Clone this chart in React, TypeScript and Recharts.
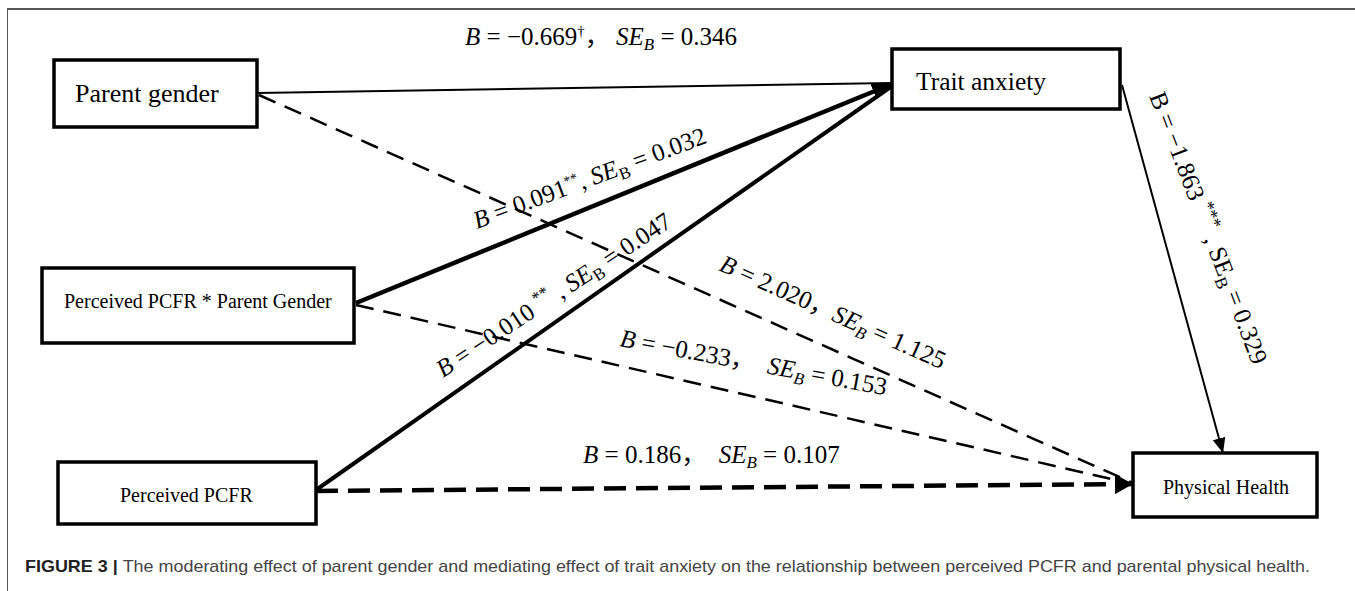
import { ComposedChart, XAxis, YAxis, Line, Scatter, ReferenceArea } from "recharts";

const W = 1355;
const H = 591;

// variables in the path model
const nodeNames = [
  "Parent gender",
  "Perceived PCFR * Parent Gender",
  "Perceived PCFR",
  "Trait anxiety",
  "Physical Health",
];

// paths: from -> to, with unstandardized coefficient, SE and significance
const pathFrom = [0, 0, 1, 1, 2, 2, 3];
const pathTo = [3, 4, 3, 4, 3, 4, 4];
const pathB = [-0.669, 2.02, 0.091, -0.233, -0.01, 0.186, -1.863];
const pathSE = [0.346, 1.125, 0.032, 0.153, 0.047, 0.107, 0.329];
const pathSig = ["†", "", "**", "", "**", "", "***"];

const caption =
  "The moderating effect of parent gender and mediating effect of trait anxiety on the relationship between perceived PCFR and parental physical health.";

// ---- layout (figure pixels) ----
const boxLayout = [
  { x1: 54, x2: 257, y1: 60, y2: 127, tx: 75, ty: 102, size: 26 },
  { x1: 42, x2: 354, y1: 268, y2: 343, tx: 64, ty: 308, size: 20 },
  { x1: 58, x2: 316, y1: 462, y2: 524, tx: 120, ty: 502, size: 20 },
  { x1: 892, x2: 1120, y1: 49, y2: 109, tx: 916, ty: 90, size: 25.5 },
  { x1: 1133, x2: 1317, y1: 453, y2: 517, tx: 1163, ty: 494, size: 20 },
];

const pathLayout = [
  { from: { x: 257, y: 93 }, to: { x: 892, y: 83 }, w: 2, dash: undefined, marker: undefined },
  { from: { x: 259, y: 95 }, to: { x: 1133, y: 483 }, w: 2.5, dash: "18 10", marker: undefined },
  { from: { x: 356, y: 303 }, to: { x: 892, y: 84 }, w: 4.5, dash: undefined, marker: "url(#arrowTA)" },
  { from: { x: 356, y: 305 }, to: { x: 1133, y: 484 }, w: 2.5, dash: "18 10", marker: undefined },
  { from: { x: 316, y: 490 }, to: { x: 892, y: 86 }, w: 4, dash: undefined, marker: undefined },
  { from: { x: 316, y: 491 }, to: { x: 1133, y: 484 }, w: 4.5, dash: "22 10", marker: "url(#arrowPHl)" },
  { from: { x: 1122, y: 85 }, to: { x: 1223, y: 453 }, w: 2, dash: undefined, marker: "url(#arrowPHt)" },
];

const labelLayout = [
  { x: 465, y: 45, angle: 0, italic: true, subItalic: true, sep: "，\u00a0", sigGap: false, sigSize: 15, sigRise: 9 },
  { x: 718, y: 270, angle: 24, italic: true, subItalic: true, sep: "，", sigGap: false, sigSize: 15, sigRise: 9 },
  { x: 477, y: 229, angle: -20.5, italic: true, subItalic: false, sep: ", ", sigGap: false, sigSize: 14, sigRise: 9 },
  { x: 619, y: 346, angle: 10.5, italic: true, subItalic: true, sep: "，\u00a0\u00a0", sigGap: false, sigSize: 15, sigRise: 9 },
  { x: 443, y: 378, angle: -33.5, italic: true, subItalic: false, sep: " , ", sigGap: true, sigSize: 17, sigRise: 10 },
  { x: 583, y: 463, angle: 0, italic: true, subItalic: true, sep: "，\u00a0\u00a0", sigGap: false, sigSize: 15, sigRise: 9 },
  { x: 1149, y: 96, angle: 69, italic: false, subItalic: false, sep: " , ", sigGap: true, sigSize: 18, sigRise: 10 },
];

const serif = "'Liberation Serif', 'Times New Roman', 'Noto Sans CJK SC', serif";
const sans = "'Liberation Sans', Arial, Helvetica, sans-serif";

const fmt = (v: number) => (v < 0 ? "\u2212" : "") + Math.abs(v).toFixed(3);

type Seg = { t: string; italic?: boolean; size?: number; shift?: number; bold?: boolean; fill?: string };

function Rich({ x, y, angle, segs, size, family, fill }: any) {
  let prev = 0;
  return (
    <text
      x={x}
      y={y}
      transform={angle ? `rotate(${angle} ${x} ${y})` : undefined}
      fontFamily={family}
      fontSize={size}
      fill={fill}
      style={{ whiteSpace: "pre" }}
    >
      {(segs as Seg[]).map((s, k) => {
        const sh = s.shift ?? 0;
        const dy = sh - prev;
        prev = sh;
        return (
          <tspan
            key={k}
            dy={dy}
            fontStyle={s.italic ? "italic" : "normal"}
            fontSize={s.size}
            fontWeight={s.bold ? "bold" : undefined}
            fill={s.fill}
          >
            {s.t}
          </tspan>
        );
      })}
    </text>
  );
}

const coefSegs = (i: number): Seg[] => {
  const L = labelLayout[i];
  const segs: Seg[] = [{ t: "B", italic: L.italic }, { t: " = " + fmt(pathB[i]) }];
  if (pathSig[i]) {
    if (L.sigGap) segs.push({ t: " " });
    segs.push({ t: pathSig[i], size: L.sigSize, shift: -L.sigRise });
  }
  segs.push({ t: L.sep });
  segs.push({ t: "SE", italic: L.italic });
  segs.push({ t: "B", italic: L.subItalic, size: 17, shift: 5 });
  segs.push({ t: " = " + fmt(pathSE[i]) });
  return segs;
};

const nodeLabelData = nodeNames.map((name, i) => ({
  x: boxLayout[i].tx,
  y: boxLayout[i].ty,
  name,
  size: boxLayout[i].size,
}));

const coefLabelData = pathB.map((_, i) => ({
  x: labelLayout[i].x,
  y: labelLayout[i].y,
  idx: i,
}));

export default function App() {
  return (
    <div style={{ position: "absolute", left: 0, top: 0, width: W, height: H, background: "#fff" }}>
      <svg width={0} height={0} style={{ position: "absolute" }}>
        <defs>
          <marker id="arrowTA" viewBox="0 0 20 17" refX={20} refY={8.5} markerWidth={20} markerHeight={17} markerUnits="userSpaceOnUse" orient="auto">
            <path d="M0,0 L20,8.5 L0,17 z" fill="#000" />
          </marker>
          <marker id="arrowPHl" viewBox="0 0 18 20" refX={18} refY={10} markerWidth={18} markerHeight={20} markerUnits="userSpaceOnUse" orient="auto">
            <path d="M0,0 L18,10 L0,20 z" fill="#000" />
          </marker>
          <marker id="arrowPHt" viewBox="0 0 15 13" refX={15} refY={6.5} markerWidth={15} markerHeight={13} markerUnits="userSpaceOnUse" orient="auto">
            <path d="M0,0 L15,6.5 L0,13 z" fill="#000" />
          </marker>
        </defs>
      </svg>

      <div
        style={{
          position: "absolute",
          left: 7,
          top: 8,
          width: W - 7,
          height: H,
          borderTop: "2px solid #555",
          borderLeft: "1.5px solid #555",
        }}
      />

      <div style={{ position: "absolute", left: 0, top: 0 }}>
        <ComposedChart width={W} height={H} margin={{ top: 0, right: 0, bottom: 0, left: 0 }}>
          <XAxis type="number" dataKey="x" domain={[0, W]} hide allowDataOverflow />
          <YAxis type="number" dataKey="y" domain={[0, H]} reversed hide allowDataOverflow />

          {boxLayout.map((b, i) => (
            <ReferenceArea
              key={"box" + i}
              x1={b.x1}
              x2={b.x2}
              y1={b.y1}
              y2={b.y2}
              fill="#fff"
              fillOpacity={1}
              stroke="#000"
              strokeWidth={3.5}
            />
          ))}

          {pathFrom.map((f, i) => (
            <Line
              key={"path" + i}
              name={nodeNames[f] + " → " + nodeNames[pathTo[i]]}
              data={[pathLayout[i].from, pathLayout[i].to]}
              dataKey="y"
              type="linear"
              stroke="#000"
              strokeWidth={pathLayout[i].w}
              strokeDasharray={pathLayout[i].dash}
              markerEnd={pathLayout[i].marker}
              dot={false}
              activeDot={false}
              isAnimationActive={false}
            />
          ))}

          <Scatter
            data={nodeLabelData}
            dataKey="y"
            isAnimationActive={false}
            shape={(p: any) => (
              <text x={p.cx} y={p.cy} fontFamily={serif} fontSize={p.payload.size} fill="#000">
                {p.payload.name}
              </text>
            )}
          />

          <Scatter
            data={coefLabelData}
            dataKey="y"
            isAnimationActive={false}
            shape={(p: any) => (
              <Rich
                x={p.cx}
                y={p.cy}
                angle={labelLayout[p.payload.idx].angle}
                segs={coefSegs(p.payload.idx)}
                size={25}
                family={serif}
                fill="#000"
              />
            )}
          />
        </ComposedChart>
      </div>

      <svg width={W} height={H} style={{ position: "absolute", left: 0, top: 0, pointerEvents: "none" }}>
        <text x={25} y={572} fontFamily={sans} fontSize={17} textLength={1285} lengthAdjust="spacingAndGlyphs">
          <tspan fontWeight="bold" fill="#222">FIGURE 3 | </tspan>
          <tspan fill="#444">{caption}</tspan>
        </text>
      </svg>
    </div>
  );
}
